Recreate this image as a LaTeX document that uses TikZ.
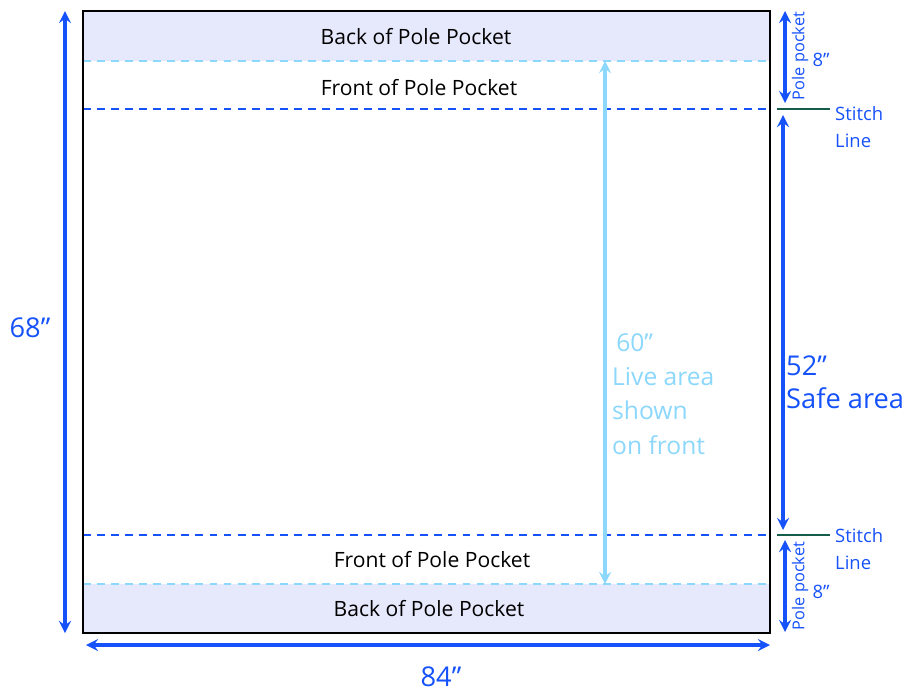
\documentclass[tikz,border=0pt]{standalone}
\usepackage{fontspec}
\setmainfont{Open Sans}
\usepackage{xcolor}
\usepackage{tikz}
\usetikzlibrary{arrows, positioning}
\definecolor{dimblue}{RGB}{22,82,250}
\definecolor{liveblue}{RGB}{140,215,252}
\definecolor{pocketfill}{RGB}{230,232,251}
\definecolor{stitchgreen}{RGB}{22,92,74}
\tikzstyle{pockettext} = [font=\fontsize{12}{14}\selectfont, text=black]
\tikzstyle{bigdim} = [font=\fontsize{15.5}{19}\selectfont, text=dimblue, align=left]
\tikzstyle{livetext} = [font=\fontsize{14}{19.5}\selectfont, text=liveblue, align=left]
\tikzstyle{smalldim} = [font=\fontsize{10.5}{15}\selectfont, text=dimblue, align=left]
\tikzstyle{tinydim} = [font=\fontsize{9.3}{10}\selectfont, text=dimblue, rotate=90]
\tikzstyle{dimarrow} = [dimblue, line width=2pt, <->, >=stealth]
\tikzstyle{livearrow} = [liveblue, line width=2pt, <->, >=stealth]
\tikzstyle{stitchdash} = [dimblue, line width=1.1pt, dash pattern=on 4.5pt off 3.5pt]
\tikzstyle{foldline} = [liveblue, line width=1.1pt, dash pattern=on 4.5pt off 3.5pt]
\tikzstyle{stitchmark} = [stitchgreen, line width=1.2pt]

\begin{document}
\begin{tikzpicture}[x=0.02cm, y=-0.02cm]
\useasboundingbox (0,0) rectangle (908,691);

% sheet corners and lines
\coordinate (nw) at (83,11);
\coordinate (se) at (770,633);
\coordinate (foldtopL) at (83,61);
\coordinate (foldtopR) at (770,61);
\coordinate (foldbotL) at (83,584);
\coordinate (foldbotR) at (770,584);
\coordinate (stitchtopL) at (83,109);
\coordinate (stitchtopR) at (770,109);
\coordinate (stitchbotL) at (83,535);
\coordinate (stitchbotR) at (770,535);

% pocket backs
\fill [pocketfill] (nw) rectangle (foldtopR);
\fill [pocketfill] (foldbotL) rectangle (se);
\draw [foldline] (foldtopL) -- (foldtopR);
\draw [foldline] (foldbotL) -- (foldbotR);
\draw [stitchdash] (stitchtopL) -- (stitchtopR);
\draw [stitchdash] (stitchbotL) -- (stitchbotR);
\draw [line width=1.4pt] (nw) rectangle (se);

\node (backtop) [pockettext] at (416,37) {Back of Pole Pocket};
\node (fronttop) [pockettext] at (419,88) {Front of Pole Pocket};
\node (frontbot) [pockettext] at (432,560) {Front of Pole Pocket};
\node (backbot) [pockettext] at (429,609) {Back of Pole Pocket};

% overall size
\coordinate (htop) at (65,11);
\coordinate (hbot) at (65,633);
\coordinate (wleft) at (86,645);
\coordinate (wright) at (770,645);
\draw [dimarrow] (htop) -- (hbot);
\draw [dimarrow] (wleft) -- (wright);
\node (height) [bigdim] at (30,328) {68”};
\node (width) [bigdim] at (441,677) {84”};

% live area
\coordinate (livetop) at (605,61);
\coordinate (livebot) at (605,584);
\draw [livearrow] (livetop) -- (livebot);
\node (live) [livetext, anchor=west] at (606,394) {\,60”\\Live area\\shown\\on front};

% stitch lines
\coordinate (marktopL) at (777,109);
\coordinate (marktopR) at (830,109);
\coordinate (markbotL) at (777,535);
\coordinate (markbotR) at (830,535);
\draw [stitchmark] (marktopL) -- (marktopR);
\draw [stitchmark] (markbotL) -- (markbotR);
\node (stitchtop) [smalldim, anchor=west] at (829,127) {Stitch\\Line};
\node (stitchbot) [smalldim, anchor=west] at (829,549) {Stitch\\Line};

% pocket and safe area
\coordinate (pockettopA) at (785,11);
\coordinate (pockettopB) at (785,103);
\coordinate (safetop) at (783,115);
\coordinate (safebot) at (783,530);
\coordinate (pocketbotA) at (785,540);
\coordinate (pocketbotB) at (785,632);
\draw [dimarrow] (pockettopA) -- (pockettopB);
\draw [dimarrow] (safetop) -- (safebot);
\draw [dimarrow] (pocketbotA) -- (pocketbotB);
\node (pockettop) [tinydim] at (800,56) {Pole pocket};
\node (eighttop) [smalldim] at (821,60) {8”};
\node (pocketbot) [tinydim] at (800,586) {Pole pocket};
\node (eightbot) [smalldim] at (821,592) {8”};
\node (safe) [bigdim, anchor=west] at (780,382) {52”\\Safe area};

\end{tikzpicture}
\end{document}
